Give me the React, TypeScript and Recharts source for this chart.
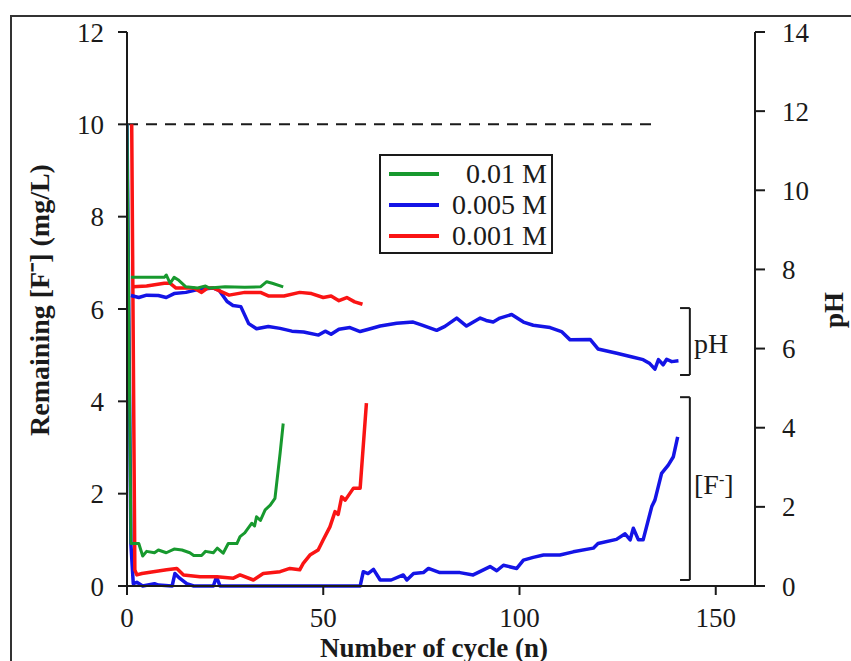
import { LineChart, Line, XAxis, YAxis, ReferenceLine } from 'recharts';

// Fluoride removal over repeated cycles: remaining [F-] (left axis) and pH (right axis)

const FONT = '"Liberation Serif", "Times New Roman", serif';
const INK = '#1a1a1a';
const GREEN = '#17992e';
const BLUE = '#1414e6';
const RED = '#fa1414';

const X_TICKS = [0, 50, 100, 150];
const F_TICKS = [0, 2, 4, 6, 8, 10, 12];
const PH_TICKS = [0, 2, 4, 6, 8, 10, 12, 14];

const LEGEND = ['0.01 M', '0.005 M', '0.001 M'];

// initial concentration (dashed)
const initX = [0, 135];
const initF = [10, 10];

// remaining [F-], mg/L
const greenFx = [0, 1, 3, 4, 5, 7, 8, 10, 12, 14, 16, 17, 19, 20, 22, 23, 24.5, 25.8, 28, 28.8, 30, 31.8, 32.5, 33, 34, 35.2, 36.5, 37.7, 39, 39.8];
const greenFy = [10, 0.92, 0.92, 0.65, 0.75, 0.72, 0.78, 0.72, 0.8, 0.78, 0.72, 0.66, 0.66, 0.75, 0.72, 0.82, 0.71, 0.92, 0.92, 1.07, 1.15, 1.36, 1.3, 1.5, 1.42, 1.65, 1.75, 1.9, 2.87, 3.52];

const redFx = [1.2, 2, 2.5, 3.8, 6.7, 10.1, 12.7, 14.4, 18.6, 22.9, 27.1, 28.8, 32.2, 34.7, 39, 41.5, 44, 44.9, 46.6, 48.7, 50, 51.7, 53, 53.8, 54.7, 55.6, 57.7, 59.4, 61];
const redFy = [10, 0.35, 0.24, 0.27, 0.31, 0.35, 0.38, 0.24, 0.2, 0.2, 0.17, 0.24, 0.13, 0.27, 0.31, 0.38, 0.35, 0.49, 0.67, 0.78, 1.0, 1.28, 1.61, 1.55, 1.93, 1.86, 2.12, 2.12, 3.96];

const blueFx = [0, 1, 1.6, 2.5, 4, 7, 8, 11.5, 12.2, 13.4, 15.2, 17, 22, 22.8, 23.7, 59.4, 60.2, 61.4, 62.8, 64.5, 67.3, 70.4, 71.3, 73, 75.5, 76.8, 79.7, 84.8, 88.2, 92.5, 94.2, 95.9, 99.3, 101, 103.5, 106.1, 110.3, 113.7, 118.8, 120, 124.7, 126.9, 128.2, 129, 130.3, 131.5, 133.7, 134.5, 136.2, 137.9, 139.2, 140.3];
const blueFy = [10, 0.9, 0.05, 0.08, 0, 0.05, 0.02, 0, 0.27, 0.17, 0.05, 0, 0, 0.2, 0, 0, 0.31, 0.27, 0.36, 0.13, 0.13, 0.24, 0.13, 0.27, 0.29, 0.38, 0.29, 0.29, 0.24, 0.42, 0.33, 0.45, 0.38, 0.56, 0.62, 0.67, 0.67, 0.74, 0.82, 0.92, 1.01, 1.13, 1.0, 1.25, 1.0, 1.0, 1.72, 1.86, 2.44, 2.62, 2.8, 3.23];

// pH
const greenPx = [1, 9.5, 10, 11, 12, 13, 15, 18, 20, 21, 25, 30, 34, 35.6, 37, 39.8];
const greenPy = [7.8, 7.8, 7.86, 7.65, 7.8, 7.74, 7.56, 7.53, 7.58, 7.53, 7.56, 7.55, 7.56, 7.69, 7.65, 7.56];

const redPx = [1.5, 5, 9.5, 11, 12.5, 17, 19, 20.5, 22, 24, 26, 30, 34, 36, 40, 44, 47, 50, 52, 54, 56, 58, 60];
const redPy = [7.56, 7.58, 7.65, 7.65, 7.53, 7.53, 7.42, 7.53, 7.53, 7.44, 7.35, 7.42, 7.42, 7.33, 7.33, 7.42, 7.39, 7.29, 7.33, 7.21, 7.29, 7.18, 7.12];

const bluePx = [1, 3, 5, 8, 10, 12, 15, 18, 22, 23.5, 25.5, 27, 29, 31, 33, 36, 39, 42, 45, 48.8, 50.5, 52, 54, 56.8, 59.4, 62, 64.5, 68.7, 72.9, 75, 78.9, 81, 84, 86.5, 90, 91.5, 93.3, 95, 98, 101, 103.5, 107.8, 110.7, 112.9, 118, 120, 124.8, 129, 131.5, 133.2, 134.5, 135.4, 136.6, 137.5, 138.8, 140.5];
const bluePy = [7.34, 7.29, 7.35, 7.34, 7.29, 7.39, 7.42, 7.49, 7.53, 7.47, 7.19, 7.09, 7.06, 6.63, 6.5, 6.56, 6.51, 6.44, 6.42, 6.34, 6.44, 6.36, 6.49, 6.53, 6.43, 6.5, 6.57, 6.64, 6.67, 6.6, 6.46, 6.56, 6.77, 6.57, 6.77, 6.71, 6.67, 6.77, 6.86, 6.67, 6.59, 6.53, 6.43, 6.22, 6.23, 5.99, 5.88, 5.78, 5.72, 5.62, 5.48, 5.72, 5.59, 5.73, 5.67, 5.69];

// bracket annotations (cycle range, [F-] ranges)
const bracketX = [140.9, 143.4];
const phBracket = [6.02, 4.57];
const fBracket = [4.09, 0.13];

const pts = (xs: number[], ys: number[]) => xs.map((n, i) => ({ n, v: ys[i] }));

export default function App() {
  const tick = { fontFamily: FONT, fontSize: 27, fill: INK, style: { fontFamily: FONT } };
  const lineProps = {
    type: 'linear' as const,
    dataKey: 'v',
    dot: false,
    activeDot: false,
    isAnimationActive: false,
    strokeLinejoin: 'round' as const,
  };
  const [bx0, bx1] = bracketX;
  const seg = (x0: number, y0: number, x1: number, y1: number, key: string) => (
    <ReferenceLine
      key={key}
      yAxisId="f"
      segment={[{ x: x0, y: y0 }, { x: x1, y: y1 }]}
      stroke={INK}
      strokeWidth={2}
      ifOverflow="visible"
    />
  );

  return (
    <div
      style={{
        position: 'absolute',
        left: 0,
        top: 0,
        width: 851,
        height: 661,
        background: '#fff',
        overflow: 'hidden',
        fontFamily: FONT,
        color: INK,
      }}
    >
      {/* figure frame */}
      <div
        style={{
          position: 'absolute',
          left: 10,
          top: 15,
          width: 900,
          height: 700,
          border: '2px solid #333',
        }}
      />
      <div style={{ position: 'absolute', left: 0, top: 0, fontFamily: FONT }}>
        <LineChart
          width={851}
          height={661}
          margin={{ top: 32, right: 16, bottom: 45, left: 27 }}
          style={{ fontFamily: FONT }}
        >
          <XAxis
            dataKey="n"
            type="number"
            domain={[0, 160]}
            ticks={X_TICKS}
            allowDataOverflow
            height={30}
            stroke={INK}
            strokeWidth={2}
            tickSize={9}
            tickMargin={13}
            tick={tick}
          />
          <YAxis
            yAxisId="f"
            domain={[0, 12]}
            ticks={F_TICKS}
            width={100}
            stroke={INK}
            strokeWidth={2}
            tickSize={9}
            tickMargin={14}
            tick={tick}
          />
          <YAxis
            yAxisId="ph"
            orientation="right"
            domain={[0, 14]}
            ticks={PH_TICKS}
            width={80}
            stroke={INK}
            strokeWidth={2}
            tickSize={10}
            tickMargin={17}
            tick={tick}
          />
          <Line {...lineProps} yAxisId="f" data={pts(initX, initF)} stroke={INK} strokeWidth={2} strokeDasharray="11 8" />
          <Line {...lineProps} yAxisId="f" data={pts(blueFx, blueFy)} stroke={BLUE} strokeWidth={3.5} />
          <Line {...lineProps} yAxisId="f" data={pts(redFx, redFy)} stroke={RED} strokeWidth={3.5} />
          <Line {...lineProps} yAxisId="f" data={pts(greenFx, greenFy)} stroke={GREEN} strokeWidth={3} />
          <Line {...lineProps} yAxisId="ph" data={pts(bluePx, bluePy)} stroke={BLUE} strokeWidth={3.5} />
          <Line {...lineProps} yAxisId="ph" data={pts(redPx, redPy)} stroke={RED} strokeWidth={3.5} />
          <Line {...lineProps} yAxisId="ph" data={pts(greenPx, greenPy)} stroke={GREEN} strokeWidth={3} />
          {seg(bx1, phBracket[0], bx1, phBracket[1], 'p1')}
          {seg(bx0, phBracket[0], bx1, phBracket[0], 'p2')}
          {seg(bx0, phBracket[1], bx1, phBracket[1], 'p3')}
          {seg(bx1, fBracket[0], bx1, fBracket[1], 'f1')}
          {seg(bx0, fBracket[0], bx1, fBracket[0], 'f2')}
          {seg(bx0, fBracket[1], bx1, fBracket[1], 'f3')}
        </LineChart>
      </div>

      {/* bracket labels */}
      <div style={{ position: 'absolute', left: 694, top: 328, fontSize: 28 }}>pH</div>
      <div style={{ position: 'absolute', left: 694, top: 469, fontSize: 28 }}>
        [F<sup style={{ fontSize: 16, verticalAlign: 'top', position: 'relative', top: 2 }}>-</sup>]
      </div>

      {/* legend */}
      <div
        style={{
          position: 'absolute',
          left: 379,
          top: 154,
          width: 170,
          height: 92,
          border: `2px solid ${INK}`,
          padding: '2px 0',
        }}
      >
        {LEGEND.map((name, i) => (
          <div key={name} style={{ display: 'flex', alignItems: 'center', height: 31 }}>
            <div style={{ width: 50, height: 4, marginLeft: 8, background: [GREEN, BLUE, RED][i] }} />
            <div style={{ flex: 1, textAlign: 'right', paddingRight: 4, fontSize: 28 }}>{name}</div>
          </div>
        ))}
      </div>

      {/* axis titles */}
      <div
        style={{
          position: 'absolute',
          left: 38,
          top: 300,
          transform: 'translate(-50%, -50%) rotate(-90deg)',
          whiteSpace: 'nowrap',
          fontWeight: 'bold',
          fontSize: 28,
        }}
      >
        Remaining [F⁻] (mg/L)
      </div>
      <div
        style={{
          position: 'absolute',
          left: 834,
          top: 310,
          transform: 'translate(-50%, -50%) rotate(-90deg)',
          whiteSpace: 'nowrap',
          fontWeight: 'bold',
          fontSize: 27,
        }}
      >
        pH
      </div>
      <div
        style={{
          position: 'absolute',
          left: 434,
          top: 648,
          transform: 'translate(-50%, -50%)',
          whiteSpace: 'nowrap',
          fontWeight: 'bold',
          fontSize: 27,
        }}
      >
        Number of cycle (n)
      </div>
    </div>
  );
}
